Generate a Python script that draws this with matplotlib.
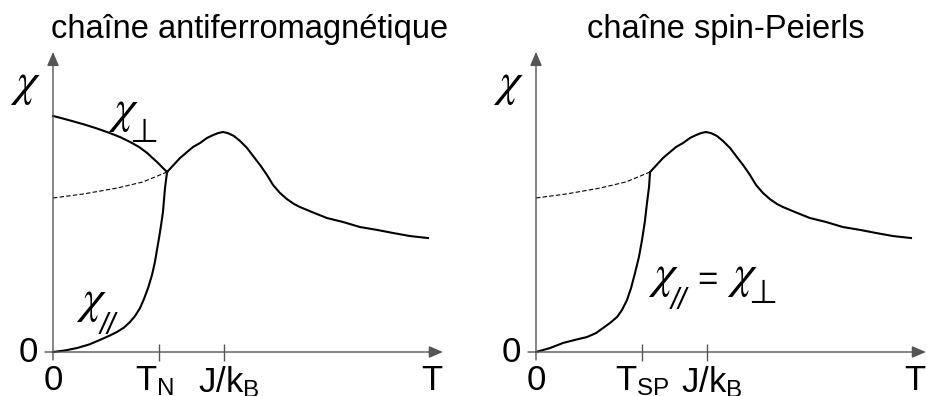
import numpy as np
import matplotlib.pyplot as plt

plt.rcParams['font.family'] = ['Liberation Sans', 'DejaVu Sans']
plt.rcParams['mathtext.fontset'] = 'custom'
plt.rcParams['mathtext.rm'] = 'Liberation Sans'
plt.rcParams['mathtext.it'] = 'Liberation Sans:italic'

# values (T in units of J/kB, chi in units of the peak)
t_perp = [0, 0.088, 0.175, 0.257, 0.333, 0.392, 0.450, 0.503, 0.550, 0.579, 0.608, 0.637, 0.667]
chi_perp = [1.073, 1.055, 1.036, 1.016, 0.995, 0.977, 0.955, 0.932, 0.905, 0.884, 0.864, 0.841, 0.818]

t_dash = [0, 0.175, 0.374, 0.526, 0.626, 0.667]
chi_dash = [0.700, 0.718, 0.745, 0.773, 0.805, 0.818]

t_par_af = [0, 0.070, 0.140, 0.211, 0.275, 0.327, 0.374, 0.415, 0.450, 0.480, 0.509, 0.532,
            0.556, 0.579, 0.596, 0.608, 0.620, 0.632, 0.643, 0.649, 0.655, 0.661, 0.667]
chi_par_af = [0, 0.007, 0.018, 0.034, 0.055, 0.073, 0.091, 0.111, 0.136, 0.164, 0.200, 0.241,
              0.291, 0.350, 0.409, 0.464, 0.518, 0.577, 0.636, 0.691, 0.745, 0.782, 0.818]

t_sp = [0, 0.082, 0.158, 0.228, 0.298, 0.351, 0.392, 0.433, 0.474, 0.503, 0.532, 0.556,
        0.579, 0.602, 0.620, 0.637, 0.649, 0.661, 0.667]
chi_sp = [0, 0.018, 0.041, 0.055, 0.068, 0.086, 0.109, 0.132, 0.159, 0.191, 0.236, 0.291,
          0.359, 0.432, 0.509, 0.595, 0.677, 0.750, 0.818]

t_high = [0.667, 0.743, 0.819, 0.860, 0.901, 0.936, 0.965, 0.994, 1.023, 1.058, 1.094,
          1.135, 1.175, 1.211, 1.251, 1.287, 1.327, 1.368, 1.409, 1.444, 1.515, 1.602,
          1.696, 1.795, 1.895, 1.988, 2.088, 2.193]
chi_high = [0.818, 0.882, 0.932, 0.950, 0.973, 0.986, 0.995, 1.000, 0.995, 0.982, 0.959,
            0.927, 0.886, 0.850, 0.805, 0.759, 0.723, 0.695, 0.673, 0.659, 0.636, 0.609,
            0.591, 0.568, 0.555, 0.541, 0.527, 0.518]

T_N = 0.62
T_SP = 0.62
J_kB = 1.0

fig = plt.figure(figsize=(9.27, 3.96), dpi=100)
ax1 = fig.add_axes([0, 0, 463 / 927, 1])
ax2 = fig.add_axes([463 / 927, 0, 464 / 927, 1])
ax1.set_xlim(-53 / 171, (463 - 53) / 171)
ax2.set_xlim(-73 / 171, (927 - 536) / 171)
for ax in (ax1, ax2):
    ax.set_ylim(-44 / 220, 352 / 220)
    ax.axis('off')

axis_col = '#555555'
tick_fs = 25
chi_fs = 34


def chi(ax, x, y):
    ax.text(x, y, r'$\chi$', fontsize=chi_fs, ha='left', va='top', math_fontfamily='stix')


def perp(ax, x, y):
    ax.text(x, y, '⊥', fontsize=24, ha='left', va='top', family='DejaVu Sans')


def par(ax, x, y):
    ax.text(x, y, '//', fontsize=21, ha='left', va='top', style='italic')


def draw_frame(ax, t_mark, mark_label, label_dx):
    # axes with arrow heads
    ax.annotate('', xy=(2.28, 0), xytext=(-0.047, 0),
                arrowprops=dict(arrowstyle='-|>,head_length=0.7,head_width=0.3',
                                color=axis_col, lw=1.0, mutation_scale=12,
                                shrinkA=0, shrinkB=0))
    ax.annotate('', xy=(0, 1.364), xytext=(0, -0.036),
                arrowprops=dict(arrowstyle='-|>,head_length=0.7,head_width=0.3',
                                color=axis_col, lw=1.0, mutation_scale=12,
                                shrinkA=0, shrinkB=0))
    ax.vlines([t_mark, J_kB], -0.041, 0.036, color=axis_col, lw=1.0)
    ax.text(0, -0.055, '0', fontsize=tick_fs, ha='center', va='top')
    ax.text(-0.088, 0, '0', fontsize=tick_fs, ha='right', va='center')
    ax.text(t_mark + label_dx, -0.055, mark_label, fontsize=tick_fs, ha='center', va='top')
    ax.text(J_kB + 0.03, -0.055, r'$\mathrm{J/k_B}$', fontsize=tick_fs, ha='center', va='top')
    ax.text(2.216, -0.055, 'T', fontsize=tick_fs, ha='center', va='top')
    chi(ax, -0.25, 1.314)


# antiferromagnetic chain
draw_frame(ax1, T_N, r'$\mathrm{T_N}$', -0.025)
ax1.plot(t_perp, chi_perp, color='black', lw=1.5)
ax1.plot(t_dash, chi_dash, color='black', lw=0.8, ls=(0, (4, 2)))
ax1.plot(t_par_af, chi_par_af, color='black', lw=1.5)
ax1.plot(t_high, chi_high, color='black', lw=1.5)
ax1.text(1.152, 1.468, 'chaîne antiferromagnétique', fontsize=23.5, ha='center', va='center')
chi(ax1, 0.32, 1.191)
perp(ax1, 0.445, 1.075)
chi(ax1, 0.135, 0.327)
par(ax1, 0.27, 0.18)

# spin-Peierls chain
draw_frame(ax2, T_SP, r'$\mathrm{T_{SP}}$', 0.0)
ax2.plot(t_dash, chi_dash, color='black', lw=0.8, ls=(0, (4, 2)))
ax2.plot(t_sp, chi_sp, color='black', lw=1.5)
ax2.plot(t_high, chi_high, color='black', lw=1.5)
ax2.text(1.111, 1.468, 'chaîne spin-Peierls', fontsize=23.5, ha='center', va='center')
chi(ax2, 0.655, 0.441)
par(ax2, 0.785, 0.295)
ax2.text(0.945, 0.327, '=', fontsize=tick_fs, ha='left', va='center')
chi(ax2, 1.115, 0.441)
perp(ax2, 1.24, 0.34)

fig.savefig('out.png', dpi=100)
